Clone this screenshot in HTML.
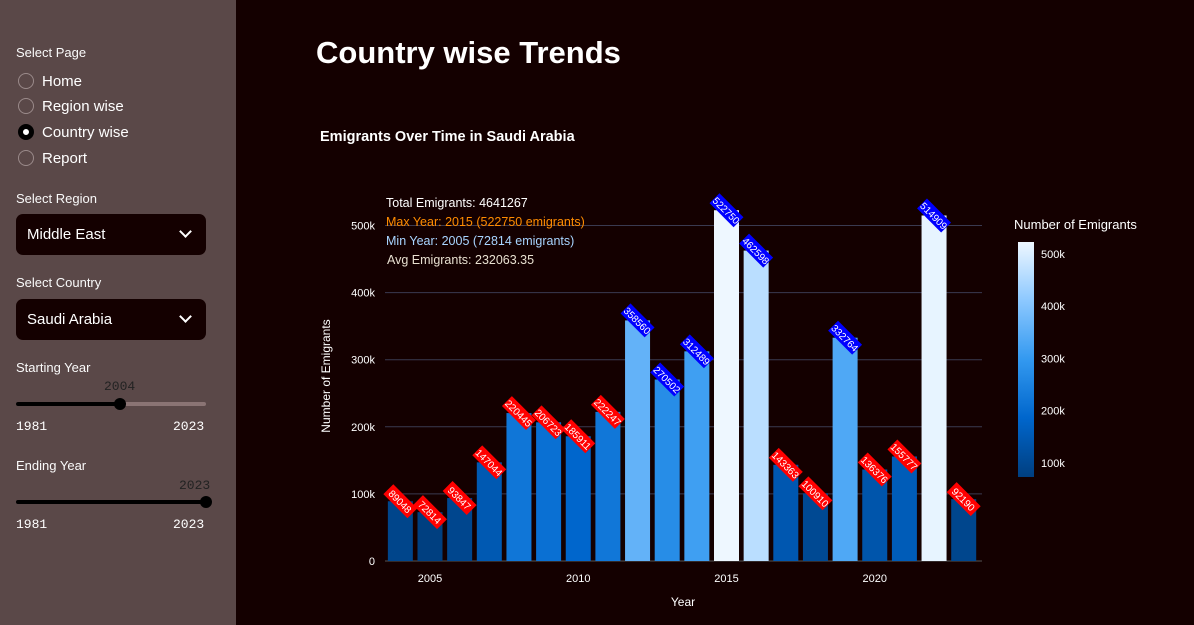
<!DOCTYPE html>
<html><head><meta charset="utf-8"><style>
body{margin:0;width:1194px;height:625px;overflow:hidden;background:#140000;font-family:"Liberation Sans",sans-serif;color:#fff;position:relative}
#side{position:absolute;left:0;top:0;width:236px;height:625px;background:#5a4848}
.lbl{position:absolute;left:16px;font-size:13px;color:#fafafa}
.radio{position:absolute;left:18px;width:16px;height:16px;border-radius:50%;border:1px solid #9a8a8a;box-sizing:border-box}
.radio.on{background:#fff;border:5px solid #000}
.rt{position:absolute;left:42px;font-size:15px}
.sel{position:absolute;left:16px;width:190px;height:41px;background:#140000;border-radius:7px;font-size:15px}
.sel span{position:absolute;left:11px;top:12px}
.sel i{position:absolute;right:16px;top:13px;width:7px;height:7px;border-right:2px solid #fff;border-bottom:2px solid #fff;transform:rotate(45deg)}
.mono{position:absolute;font-family:"Liberation Mono",monospace;font-size:13px}
</style></head><body>
<div id="side">
<div class="lbl" style="top:45px">Select Page</div>
<div class="radio" style="top:73px"></div><div class="rt" style="top:73px">Home</div>
<div class="radio" style="top:98px"></div><div class="rt" style="top:98px">Region wise</div>
<div class="radio on" style="top:124px"></div><div class="rt" style="top:124px">Country wise</div>
<div class="radio" style="top:150px"></div><div class="rt" style="top:150px">Report</div>
<div class="lbl" style="top:191px">Select Region</div>
<div class="sel" style="top:214px"><span>Middle East</span><i></i></div>
<div class="lbl" style="top:275px">Select Country</div>
<div class="sel" style="top:299px"><span>Saudi Arabia</span><i></i></div>
<div class="lbl" style="top:360px">Starting Year</div>
<div class="mono" style="left:104px;top:379px;color:#222">2004</div>
<div style="position:absolute;left:16px;top:402px;width:190px;height:4px;background:#8a7474;border-radius:2px"></div>
<div style="position:absolute;left:16px;top:402px;width:104px;height:4px;background:#000;border-radius:2px"></div>
<div style="position:absolute;left:114px;top:398px;width:12px;height:12px;background:#000;border-radius:50%"></div>
<div class="mono" style="left:16px;top:419px">1981</div>
<div class="mono" style="left:173px;top:419px">2023</div>
<div class="lbl" style="top:458px">Ending Year</div>
<div class="mono" style="left:179px;top:478px;color:#222">2023</div>
<div style="position:absolute;left:16px;top:500px;width:190px;height:4px;background:#000;border-radius:2px"></div>
<div style="position:absolute;left:200px;top:496px;width:12px;height:12px;background:#000;border-radius:50%"></div>
<div class="mono" style="left:16px;top:517px">1981</div>
<div class="mono" style="left:173px;top:517px">2023</div>
</div>
<div style="position:absolute;left:316px;top:35px;font-size:31px;font-weight:bold">Country wise Trends</div>
<svg id="chart" width="1194" height="625" style="position:absolute;left:0;top:0">
<defs><linearGradient id="cg" x1="0" y1="1" x2="0" y2="0">
<stop offset="0" stop-color="#003f80"/><stop offset="0.25" stop-color="#0066cc"/><stop offset="0.5" stop-color="#3399f0"/><stop offset="0.75" stop-color="#8cc8ff"/><stop offset="1" stop-color="#eef7ff"/></linearGradient></defs>
<text x="320" y="141" font-size="14.5" font-weight="bold" fill="#fff">Emigrants Over Time in Saudi Arabia</text>
<g id="grid"></g><g id="bars"></g><g id="labels"></g>
<text x="386" y="207" font-size="12.5" fill="#fff">Total Emigrants: 4641267</text>
<text x="386" y="226" font-size="12.5" fill="#ff8c00">Max Year: 2015 (522750 emigrants)</text>
<text x="386" y="245" font-size="12.5" fill="#a8d4ff">Min Year: 2005 (72814 emigrants)</text>
<text x="387" y="264" font-size="12.5" fill="#e8e0d0">Avg Emigrants: 232063.35</text>
<text transform="translate(330,376) rotate(-90)" text-anchor="middle" font-size="12" fill="#fff">Number of Emigrants</text>
<text x="683" y="606" text-anchor="middle" font-size="12" fill="#fff">Year</text>
<text x="1014" y="229" font-size="13" fill="#fff">Number of Emigrants</text>
<rect x="1018" y="242" width="16" height="235" fill="url(#cg)"/>
<g id="cbt"></g>
</svg>
<script>
const years=[2004,2005,2006,2007,2008,2009,2010,2011,2012,2013,2014,2015,2016,2017,2018,2019,2020,2021,2022,2023];
const emigrants=[89048,72814,93847,147044,220445,206723,185911,222247,358560,270502,312489,522750,462598,143363,100910,332764,136376,155777,514909,92190];
const yTicks=[0,100000,200000,300000,400000,500000];
const yTickLabels=["0","100k","200k","300k","400k","500k"];
const xTicks=[2005,2010,2015,2020];
const cbTicks=[100000,200000,300000,400000,500000];
const cbTickLabels=["100k","200k","300k","400k","500k"];
const NS="http://www.w3.org/2000/svg";
const X=y=>430+(y-2005)*29.65;
const Y=v=>561-v*0.000671;
const vmin=Math.min(...emigrants),vmax=Math.max(...emigrants);
const CB=v=>477-(v-vmin)/(vmax-vmin)*235;
const stops=[[0,[0,63,128]],[0.25,[0,102,204]],[0.5,[51,153,240]],[0.75,[140,200,255]],[1,[238,247,255]]];
function col(v){let t=(v-vmin)/(vmax-vmin);for(let i=1;i<stops.length;i++){if(t<=stops[i][0]){const a=stops[i-1],b=stops[i];const f=(t-a[0])/(b[0]-a[0]);return 'rgb('+a[1].map((c,k)=>Math.round(c+(b[1][k]-c)*f)).join(',')+')';}}return 'rgb(238,247,255)';}
function mk(tag,at,p){const e=document.createElementNS(NS,tag);for(const k in at)e.setAttribute(k,at[k]);p.appendChild(e);return e;}
const avg=emigrants.reduce((a,b)=>a+b,0)/emigrants.length;
const g=document.getElementById('grid');
yTicks.forEach((v,i)=>{
 const l=mk('line',{x1:385,x2:982,y1:Y(v),y2:Y(v),stroke:i==0?'#555':'#3a3a50','stroke-width':1},g);
 
 
 const t=mk('text',{x:375,y:Y(v)+4,'text-anchor':'end','font-size':11,fill:'#fff'},g);t.textContent=yTickLabels[i];
 
 
});
xTicks.forEach(y=>{
 const t=mk('text',{x:X(y),y:582,'text-anchor':'middle','font-size':11,fill:'#fff'},g);t.textContent=y;
 
 
});
const bg=document.getElementById('bars'),lg=document.getElementById('labels');
years.forEach((y,i)=>{
 const v=emigrants[i];
 const r=mk('rect',{x:X(y)-12.5,y:Y(v),width:25,height:561-Y(v),fill:col(v)},bg);
 
 
 const gg=mk('g',{transform:'translate('+X(y)+','+Y(v)+') rotate(45)'},lg);
 
 
 mk('rect',{x:-17,y:-7,width:34,height:14,fill:v<avg?'#ff0000':'#0000ff'},gg);
 const t=mk('text',{x:0,y:4,'text-anchor':'middle','font-size':10,fill:'#fff'},gg);t.textContent=v;
});
const cg=document.getElementById('cbt');
cbTicks.forEach((v,i)=>{
 const t=mk('text',{x:1041,y:CB(v)+4,'font-size':11,fill:'#fff'},cg);t.textContent=cbTickLabels[i];
 
 
});
</script>
</body></html>
